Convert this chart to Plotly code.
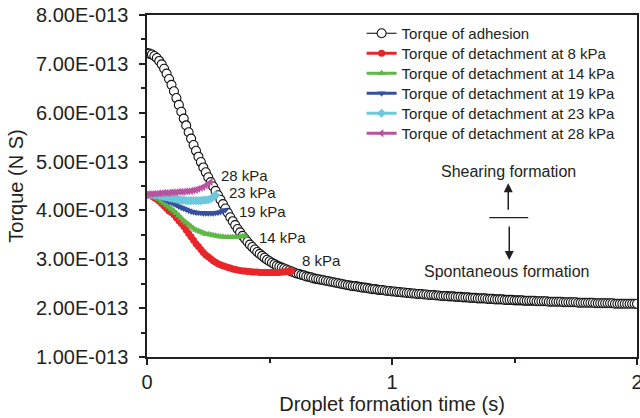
import plotly.graph_objects as go

# ---------------- data (torque in units of 1e-13 N S) ----------------
dt = 0.01
adhesion = [
    7.22, 7.21, 7.19, 7.16, 7.12, 7.06, 6.99, 6.90, 6.80, 6.69,
    6.57, 6.44, 6.30, 6.16, 6.02, 5.88, 5.74, 5.60, 5.47, 5.34,
    5.22, 5.10, 4.99, 4.88, 4.78, 4.68, 4.58, 4.49, 4.40, 4.31,
    4.22, 4.13, 4.04, 3.95, 3.86, 3.78, 3.70, 3.62, 3.55, 3.48,
    3.42, 3.36, 3.30, 3.25, 3.20, 3.15, 3.11, 3.07, 3.03, 2.99,
    2.96, 2.93, 2.90, 2.87, 2.85, 2.83, 2.81, 2.79, 2.77, 2.75,
    2.73, 2.71, 2.70, 2.68, 2.67, 2.65, 2.64, 2.63, 2.61, 2.60,
    2.59, 2.58, 2.57, 2.56, 2.55, 2.54, 2.53, 2.52, 2.51, 2.50,
    2.49, 2.48, 2.47, 2.46, 2.45, 2.45, 2.44, 2.43, 2.42, 2.42,
    2.41, 2.40, 2.39, 2.39, 2.38, 2.37, 2.37, 2.36, 2.35, 2.35,
    2.34, 2.34, 2.33, 2.33, 2.32, 2.32, 2.31, 2.31, 2.30, 2.30,
    2.29, 2.29, 2.29, 2.28, 2.28, 2.27, 2.27, 2.27, 2.26, 2.26,
    2.25, 2.25, 2.25, 2.24, 2.24, 2.24, 2.23, 2.23, 2.23, 2.22,
    2.22, 2.22, 2.21, 2.21, 2.21, 2.20, 2.20, 2.20, 2.20, 2.19,
    2.19, 2.19, 2.18, 2.18, 2.18, 2.18, 2.17, 2.17, 2.17, 2.17,
    2.16, 2.16, 2.16, 2.16, 2.15, 2.15, 2.15, 2.15, 2.15, 2.14,
    2.14, 2.14, 2.14, 2.14, 2.13, 2.13, 2.13, 2.13, 2.13, 2.13,
    2.12, 2.12, 2.12, 2.12, 2.12, 2.12, 2.11, 2.11, 2.11, 2.11,
    2.11, 2.11, 2.11, 2.10, 2.10, 2.10, 2.10, 2.10, 2.10, 2.10,
    2.10, 2.09, 2.09, 2.09, 2.09, 2.09, 2.09, 2.09, 2.09, 2.09,
    2.09,
]
detach_8kpa = [
    4.32, 4.31, 4.29, 4.26, 4.23, 4.19, 4.14, 4.09, 4.04, 3.99,
    3.96, 3.91, 3.85, 3.79, 3.73, 3.67, 3.60, 3.53, 3.46, 3.39,
    3.32, 3.26, 3.20, 3.14, 3.09, 3.05, 3.01, 2.97, 2.94, 2.91,
    2.89, 2.87, 2.85, 2.83, 2.82, 2.80, 2.79, 2.78, 2.77, 2.76,
    2.76, 2.75, 2.75, 2.74, 2.74, 2.74, 2.73, 2.73, 2.73, 2.73,
    2.73, 2.73, 2.73, 2.73, 2.73, 2.74, 2.74, 2.75, 2.75, 2.76,
]
detach_14kpa = [
    4.32, 4.32, 4.30, 4.28, 4.26, 4.23, 4.19, 4.15, 4.11, 4.07,
    4.03, 3.99, 3.94, 3.89, 3.84, 3.79, 3.75, 3.71, 3.67, 3.63,
    3.60, 3.58, 3.56, 3.54, 3.52, 3.51, 3.50, 3.49, 3.48, 3.47,
    3.46, 3.46, 3.45, 3.45, 3.45, 3.45, 3.45, 3.45, 3.46, 3.47,
    3.48,
]
detach_19kpa = [
    4.32, 4.32, 4.31, 4.30, 4.29, 4.28, 4.26, 4.23, 4.21, 4.18,
    4.16, 4.13, 4.11, 4.08, 4.06, 4.04, 4.02, 4.00, 3.98, 3.97,
    3.96, 3.95, 3.95, 3.94, 3.94, 3.94, 3.94, 3.94, 3.95, 3.96,
    3.97, 3.99, 4.01,
]
detach_23kpa = [
    4.32, 4.32, 4.32, 4.31, 4.31, 4.30, 4.29, 4.28, 4.27, 4.26,
    4.25, 4.24, 4.23, 4.22, 4.21, 4.21, 4.20, 4.20, 4.20, 4.20,
    4.20, 4.20, 4.20, 4.21, 4.21, 4.22, 4.24, 4.27, 4.31,
]
detach_28kpa = [
    4.32, 4.33, 4.33, 4.34, 4.34, 4.35, 4.35, 4.36, 4.36, 4.36,
    4.37, 4.37, 4.37, 4.38, 4.38, 4.38, 4.39, 4.39, 4.40, 4.41,
    4.42, 4.44, 4.46, 4.48, 4.51, 4.54, 4.58,
]

series_names = ["Torque of adhesion",
                "Torque of detachment at 8 kPa",
                "Torque of detachment at 14 kPa",
                "Torque of detachment at 19 kPa",
                "Torque of detachment at 23 kPa",
                "Torque of detachment at 28 kPa"]
curve_labels = ["8 kPa", "14 kPa", "19 kPa", "23 kPa", "28 kPa"]
y_tick_vals = [1, 2, 3, 4, 5, 6, 7, 8]
y_tick_text = ["1.00E-013", "2.00E-013", "3.00E-013", "4.00E-013",
               "5.00E-013", "6.00E-013", "7.00E-013", "8.00E-013"]
x_tick_vals = [0, 1, 2]
x_tick_text = ["0", "1", "2"]

FONT = "Liberation Sans, Arial, Helvetica, sans-serif"
TXT = "#231f20"
AX = "#231f20"

W, H = 640, 418
ML, MR, MT, MB = 147, 3, 15, 61
PLOT_H = H - MT - MB


def times(n):
    return [round(i * dt, 2) for i in range(n)]


legend_ids = ["legend", "legend2", "legend3", "legend4", "legend5", "legend6"]

fig = go.Figure()

fig.add_trace(go.Scatter(
    x=times(len(adhesion)), y=adhesion, name=series_names[0],
    mode="lines+markers", legend=legend_ids[0],
    line=dict(color="#000000", width=1),
    marker=dict(symbol="circle", size=9, color="white",
                line=dict(color="#111111", width=1.1)),
))

styles = [
    (detach_8kpa, "#e8262a", "circle"),
    (detach_14kpa, "#5db847", "triangle-up"),
    (detach_19kpa, "#34509f", "triangle-down"),
    (detach_23kpa, "#6cc9dc", "diamond"),
    (detach_28kpa, "#b9529f", "triangle-left"),
]
for (vals, col, sym), nm, lid in zip(styles, series_names[1:], legend_ids[1:]):
    fig.add_trace(go.Scatter(
        x=times(len(vals)), y=vals, name=nm, legend=lid,
        mode="lines+markers",
        line=dict(color=col, width=3),
        marker=dict(symbol=sym, size=7, color=col, line=dict(width=0)),
    ))

# curve labels
label_pos = [(0.623, 2.975), (0.448, 3.436), (0.367, 3.968), (0.326, 4.357), (0.293, 4.725)]
for txt, (lx, ly) in zip(curve_labels, label_pos):
    fig.add_annotation(x=lx, y=ly, text=txt, showarrow=False,
                       xanchor="left", yanchor="middle",
                       font=dict(family=FONT, size=15, color=TXT))

fig.add_annotation(x=1.475, y=4.79, text="Shearing formation", showarrow=False,
                   xanchor="center", yanchor="middle",
                   font=dict(family=FONT, size=16, color=TXT))
fig.add_annotation(x=1.466, y=2.746, text="Spontaneous formation", showarrow=False,
                   xanchor="center", yanchor="middle",
                   font=dict(family=FONT, size=16, color=TXT))
# arrows
fig.add_annotation(x=1.4745, y=4.555, ax=0, ay=28, axref="pixel", ayref="pixel",
                   text="", showarrow=True, arrowhead=2, arrowsize=1.2,
                   arrowwidth=1.5, arrowcolor=TXT)
fig.add_annotation(x=1.4786, y=2.985, ax=0, ay=-35, axref="pixel", ayref="pixel",
                   text="", showarrow=True, arrowhead=2, arrowsize=1.2,
                   arrowwidth=1.5, arrowcolor=TXT)
fig.add_shape(type="line", x0=1.397, x1=1.556, y0=3.851, y1=3.851,
              xref="x", yref="y", line=dict(color=TXT, width=1.2))

# one single-entry legend per series, stacked at a 20px pitch
legend_layout = {}
for i, lid in enumerate(legend_ids):
    row_px = 33.5 + 20 * i - MT  # distance below plot top
    legend_layout[lid] = dict(
        x=0.438, y=1 - row_px / PLOT_H, xanchor="left", yanchor="middle",
        bgcolor="rgba(0,0,0,0)", borderwidth=0,
        font=dict(family=FONT, size=15, color=TXT))

fig.update_layout(
    width=W, height=H,
    margin=dict(l=ML, r=MR, t=MT, b=MB, autoexpand=False),
    paper_bgcolor="white", plot_bgcolor="white",
    font=dict(family=FONT, color=TXT),
    showlegend=True,
    **legend_layout,
    xaxis=dict(range=[0, 2], tickvals=x_tick_vals, ticktext=x_tick_text,
               automargin=False,
               showgrid=False, zeroline=False,
               showline=True, mirror=True, linecolor=AX, linewidth=1.5,
               ticks="outside", ticklen=6, tickwidth=1.5, tickcolor=AX,
               ticklabeloverflow="allow",
               minor=dict(ticks="outside", ticklen=4, tickwidth=1.5,
                          tickcolor=AX, dtick=0.5, tick0=0, showgrid=False),
               tickfont=dict(family=FONT, size=20, color=TXT),
               title=dict(text="Droplet formation time (s)",
                          font=dict(family=FONT, size=20, color=TXT),
                          standoff=4)),
    yaxis=dict(range=[1, 8], tickvals=y_tick_vals, ticktext=y_tick_text,
               automargin=False,
               showgrid=False, zeroline=False,
               showline=True, mirror=True, linecolor=AX, linewidth=1.5,
               ticks="outside", ticklen=6, tickwidth=1.5, tickcolor=AX,
               ticklabeloverflow="allow",
               minor=dict(ticks="outside", ticklen=4, tickwidth=1.5,
                          tickcolor=AX, dtick=0.5, tick0=0, showgrid=False),
               tickfont=dict(family=FONT, size=20, color=TXT),
               ticklabelstandoff=7,
               title=dict(text="Torque (N S)",
                          font=dict(family=FONT, size=20, color=TXT),
                          standoff=7)),
)

fig.write_html("out.html",
               config={"displayModeBar": False},
               post_script="document.body.style.margin='0px';"
                           "document.body.style.overflow='hidden';")
